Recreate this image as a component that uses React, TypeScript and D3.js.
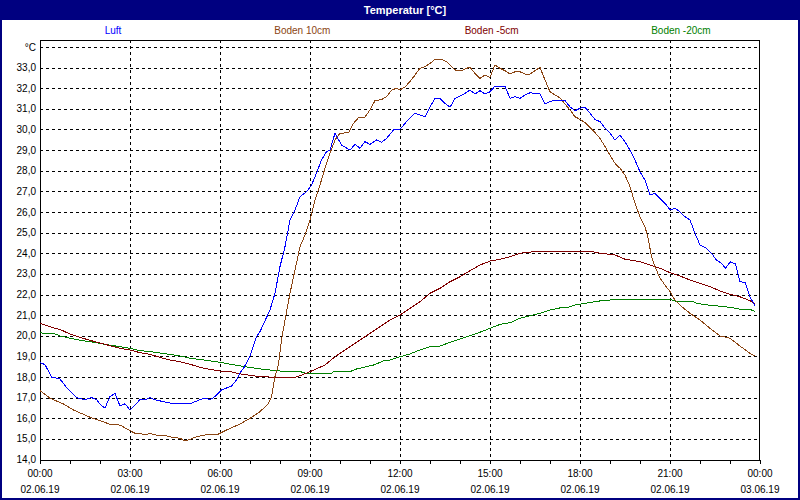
import React from "react";
import * as d3 from "d3";

// [minutes since 02.06.19 00:00, °C]
const luft: [number, number][] = [
  [0,18.7],[10,18.6],[23,18.0],[40,17.9],[53,17.5],[73,17.0],[90,16.9],[103,17.0],[113,16.9],[123,16.6],[130,16.5],[140,17.05],[150,17.2],[160,16.6],[170,16.7],[180,16.4],[190,16.65],[200,16.9],[210,16.9],[220,17.0],[230,16.9],[247,16.8],[267,16.7],[300,16.7],[320,16.9],[330,16.97],[340,16.9],[350,17.05],[363,17.37],[383,17.56],[393,17.85],[400,18.2],[407,18.42],[420,19.0],[433,19.95],[440,20.2],[460,21.25],[470,22.06],[480,23.35],[490,24.32],[500,25.6],[510,26.1],[520,26.74],[533,26.98],[543,27.3],[553,27.88],[563,28.52],[573,28.92],[580,29.0],[590,29.82],[603,29.25],[620,29.0],[630,29.28],[640,29.09],[650,29.41],[660,29.28],[673,29.49],[683,29.38],[693,29.57],[707,29.98],[720,30.01],[733,30.38],[750,30.79],[760,30.7],[770,30.62],[780,31.1],[790,31.51],[800,31.51],[810,31.27],[820,31.08],[830,31.51],[840,31.62],[850,31.75],[860,31.91],[870,31.72],[880,31.88],[890,31.72],[900,31.83],[910,32.1],[930,32.1],[940,31.51],[950,31.59],[960,31.51],[970,31.67],[980,31.78],[1000,31.72],[1010,31.24],[1020,31.35],[1030,31.43],[1050,31.4],[1060,31.1],[1070,30.91],[1080,31.03],[1090,31.08],[1100,30.79],[1110,30.49],[1120,30.38],[1130,30.06],[1140,29.82],[1150,29.49],[1160,29.73],[1170,29.41],[1180,29.0],[1190,28.52],[1200,27.95],[1210,27.55],[1220,26.82],[1230,26.9],[1240,26.66],[1250,26.42],[1260,26.1],[1270,26.18],[1280,26.01],[1290,25.77],[1300,25.61],[1310,24.97],[1320,24.4],[1333,24.24],[1343,24.0],[1353,23.67],[1363,23.51],[1371,23.27],[1381,23.59],[1391,23.48],[1400,22.62],[1410,22.59],[1420,21.89],[1430,21.44]
];

const boden10: [number, number][] = [
  [0,17.34],[20,16.97],[47,16.69],[67,16.4],[100,16.05],[140,15.71],[160,15.67],[180,15.4],[190,15.27],[200,15.27],[210,15.19],[220,15.27],[230,15.19],[253,15.15],[263,15.08],[280,15.03],[290,14.9],[300,14.98],[313,15.1],[330,15.19],[353,15.19],[373,15.43],[400,15.72],[420,16.0],[440,16.32],[457,16.72],[463,17.05],[470,18.02],[477,18.6],[483,19.79],[490,20.76],[500,22.06],[510,23.19],[520,24.32],[530,24.88],[540,25.61],[550,26.58],[563,27.55],[570,28.12],[580,28.85],[590,29.49],[600,29.82],[617,29.84],[627,30.3],[637,30.57],[650,30.6],[660,30.95],[670,31.4],[683,31.45],[693,31.59],[703,31.91],[713,32.0],[720,31.91],[730,32.07],[740,32.32],[750,32.64],[760,32.97],[770,33.05],[780,33.2],[790,33.4],[803,33.4],[813,33.29],[823,33.05],[833,32.84],[843,32.84],[853,32.97],[860,33.01],[870,32.72],[880,32.48],[890,32.64],[900,32.53],[910,33.13],[920,32.97],[930,32.85],[940,32.69],[950,32.8],[960,32.8],[970,32.69],[980,32.69],[990,32.85],[1000,33.01],[1010,32.4],[1020,31.83],[1030,31.67],[1040,31.53],[1060,30.95],[1070,30.62],[1080,30.49],[1090,30.33],[1100,30.1],[1110,29.85],[1120,29.57],[1130,29.17],[1140,28.76],[1150,28.36],[1160,28.12],[1170,27.79],[1180,27.23],[1190,26.42],[1200,25.77],[1210,25.29],[1217,24.64],[1223,23.83],[1230,23.35],[1240,22.79],[1250,22.46],[1260,22.14],[1270,21.73],[1280,21.49],[1290,21.28],[1300,21.09],[1320,20.76],[1340,20.36],[1360,19.99],[1380,19.88],[1400,19.5],[1420,19.15],[1430,19.02]
];

const bodenM5: [number, number][] = [
  [0,20.6],[30,20.36],[40,20.31],[60,20.08],[80,19.92],[110,19.71],[140,19.52],[160,19.39],[180,19.31],[200,19.18],[220,19.1],[240,18.95],[260,18.82],[280,18.74],[300,18.62],[320,18.47],[340,18.37],[360,18.29],[380,18.27],[400,18.15],[420,18.08],[440,18.02],[467,17.99],[510,17.99],[520,18.06],[540,18.26],[570,18.58],[590,18.98],[620,19.47],[640,19.79],[660,20.12],[680,20.44],[700,20.76],[720,21.0],[740,21.33],[760,21.65],[780,22.06],[800,22.3],[820,22.62],[840,22.86],[860,23.15],[880,23.43],[900,23.62],[920,23.71],[940,23.83],[960,24.0],[990,24.08],[1103,24.08],[1120,24.0],[1150,23.92],[1170,23.71],[1200,23.59],[1220,23.43],[1240,23.27],[1260,23.06],[1280,22.9],[1300,22.7],[1320,22.54],[1340,22.38],[1360,22.17],[1380,22.01],[1400,21.89],[1420,21.7],[1430,21.54]
];

const bodenM20: [number, number][] = [
  [0,20.17],[10,20.09],[30,20.09],[40,19.99],[60,19.88],[80,19.78],[110,19.68],[130,19.58],[160,19.47],[180,19.39],[200,19.28],[230,19.2],[253,19.12],[280,19.02],[300,18.91],[330,18.82],[360,18.71],[390,18.58],[410,18.5],[440,18.39],[480,18.29],[520,18.26],[533,18.18],[583,18.18],[587,18.26],[623,18.29],[630,18.37],[647,18.47],[667,18.58],[687,18.78],[700,18.82],[720,18.98],[740,19.12],[760,19.31],[780,19.47],[800,19.5],[820,19.68],[840,19.84],[860,20.0],[880,20.17],[900,20.36],[920,20.55],[940,20.63],[960,20.85],[980,20.97],[1000,21.09],[1020,21.25],[1040,21.35],[1060,21.4],[1070,21.49],[1090,21.57],[1117,21.68],[1157,21.77],[1260,21.77],[1270,21.68],[1307,21.65],[1313,21.57],[1337,21.49],[1370,21.41],[1393,21.33],[1400,21.28],[1423,21.25],[1430,21.17]
];

const seriesNames = ["Luft", "Boden 10cm", "Boden -5cm", "Boden -20cm"];
const seriesColors = ["#0000FF", "#8B4513", "#800000", "#008000"];
const seriesData = [luft, boden10, bodenM5, bodenM20];

const xTickTimes = ["00:00", "03:00", "06:00", "09:00", "12:00", "15:00", "18:00", "21:00", "00:00"];
const xTickDates = ["02.06.19", "02.06.19", "02.06.19", "02.06.19", "02.06.19", "02.06.19", "02.06.19", "02.06.19", "03.06.19"];
const yTickValues = d3.range(14, 35);

const W = 800, H = 500;
const L = 40, R = 760, T = 40, B = 459.5;
const FONT = "'Liberation Sans', Arial, sans-serif";

export default function App() {
  const x = d3.scaleLinear().domain([0, 1440]).range([L, R]);
  const y = d3.scaleLinear().domain([14, 34]).range([B, 47]);
  const line = d3.line<[number, number]>().x(d => x(d[0])).y(d => y(d[1]));
  const hours = d3.range(0, 25);

  return (
    <svg width={W} height={H} style={{ position: "absolute", left: 0, top: 0, background: "#fff" }} fontFamily={FONT}>
      <rect x={0} y={0} width={W} height={H} fill="#ffffff" />
      <rect x={0} y={0} width={W} height={20} fill="#000080" />
      <rect x={1} y={1} width={W - 2} height={H - 2} fill="none" stroke="#000080" strokeWidth={2} />
      <text x={405} y={14} textAnchor="middle" fill="#ffffff" fontSize={11} fontWeight="bold">Temperatur [°C]</text>

      {seriesNames.map((n, i) => (
        <text key={n} x={113 + i * 189.3} y={34} textAnchor="middle" fill={seriesColors[i]} fontSize={10}>{n}</text>
      ))}

      <g shapeRendering="crispEdges">
        {yTickValues.map(v => (
          <line key={"h" + v} x1={L} x2={R} y1={Math.round(y(v)) + 0.5} y2={Math.round(y(v)) + 0.5}
            stroke="#000" strokeDasharray="3,3" strokeWidth={1} />
        ))}
        {xTickTimes.map((_, i) => (i > 0 && i < 8) ? (
          <line key={"v" + i} x1={Math.round(x(i * 180)) + 0.5} x2={Math.round(x(i * 180)) + 0.5} y1={T} y2={B}
            stroke="#000" strokeDasharray="3,3" strokeWidth={1} />
        ) : null)}
        {hours.map(h => (
          <line key={"t" + h} x1={Math.round(x(h * 60)) + 0.5} x2={Math.round(x(h * 60)) + 0.5} y1={B} y2={B + 4}
            stroke="#000" strokeWidth={1} />
        ))}
        <rect x={L + 0.5} y={T + 0.5} width={R - L - 1} height={Math.round(B) - T} fill="none" stroke="#000" strokeWidth={1} />
      </g>

      {yTickValues.map(v => (
        <text key={"yl" + v} x={36} y={y(v) + 3.5} textAnchor="end" fill="#000" fontSize={10}>
          {v === 34 ? "°C" : v.toFixed(1).replace(".", ",")}
        </text>
      ))}

      {xTickTimes.map((t, i) => (
        <g key={"xl" + i}>
          <text x={x(i * 180)} y={477} textAnchor="middle" fill="#000" fontSize={10}>{t}</text>
          <text x={x(i * 180)} y={492.5} textAnchor="middle" fill="#000" fontSize={10}>{xTickDates[i]}</text>
        </g>
      ))}

      <g shapeRendering="crispEdges">
        {[3, 2, 1, 0].map(i => (
          <path key={"s" + i} d={line(seriesData[i]) || ""} fill="none" stroke={seriesColors[i]} strokeWidth={1} />
        ))}
      </g>
    </svg>
  );
}
